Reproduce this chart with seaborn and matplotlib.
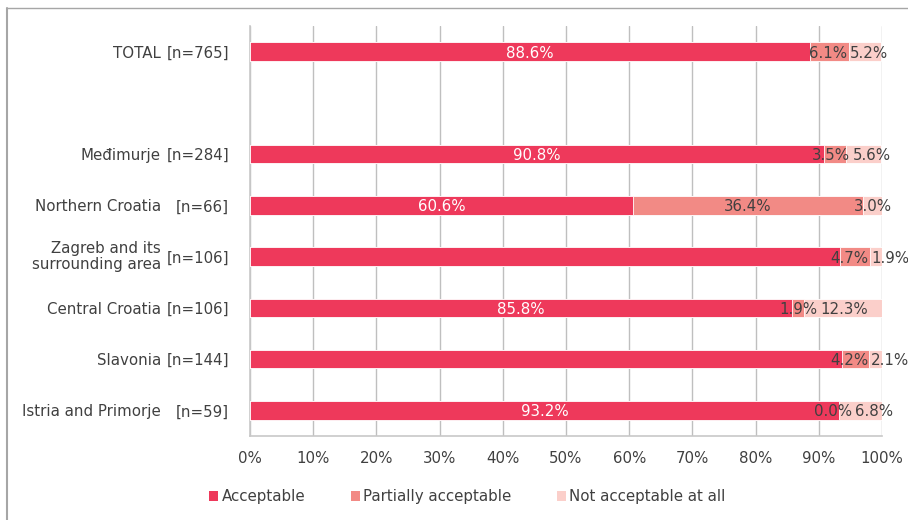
import pandas as pd
import numpy as np
import matplotlib.pyplot as plt
from matplotlib.patches import Patch
from matplotlib.lines import Line2D
import seaborn as sns

# data
regions = ['TOTAL', 'Međimurje', 'Northern Croatia', 'Zagreb and its\nsurrounding area',
           'Central Croatia', 'Slavonia', 'Istria and Primorje']
sample_sizes = ['[n=765]', '[n=284]', '[n=66]', '[n=106]', '[n=106]', '[n=144]', '[n=59]']
acceptable = [88.6, 90.8, 60.6, 93.4, 85.8, 93.7, 93.2]
partially = [6.1, 3.5, 36.4, 4.7, 1.9, 4.2, 0.0]
not_at_all = [5.2, 5.6, 3.0, 1.9, 12.3, 2.1, 6.8]
# the original shows no value inside these two acceptable bars
hide_acc_label = ['Zagreb and its\nsurrounding area', 'Slavonia']

series_names = ['Acceptable', 'Partially acceptable', 'Not acceptable at all']
colors = ['#EE395B', '#F28A85', '#FBCFCA']
text_col = '#404040'
fs = 10.8

# empty slot between TOTAL and the regions
order = ['TOTAL', 'gap'] + regions[1:]

df = pd.DataFrame({'region': regions, 'acc': acceptable,
                   'part': partially, 'notacc': not_at_all})
df['cum2'] = df['acc'] + df['part']
df['cum3'] = df['cum2'] + df['notacc']

sns.set_style('white')
plt.rcParams['font.family'] = ['DejaVu Sans']

fig = plt.figure(figsize=(9.08, 5.2), dpi=100)
ax = fig.add_axes([250 / 908, 1 - 436 / 520, 632 / 908, 410 / 520])

# stacked bars: draw cumulative totals back to front
for col, c in zip(['cum3', 'cum2', 'acc'], colors[::-1]):
    sns.barplot(data=df, x=col, y='region', order=order, color=c, width=0.36,
                orient='h', ax=ax, edgecolor='white', linewidth=0.6,
                saturation=1, zorder=3)

ax.set_xlim(0, 100)
ax.set_ylim(len(order) - 0.5, -0.5)
ax.set_xticks(np.arange(0, 101, 10))
ax.set_xticklabels([f'{t}%' for t in range(0, 101, 10)], fontsize=fs, color=text_col)
ax.tick_params(axis='x', length=0, pad=11)
ax.grid(axis='x', color='#BFBFBF', linewidth=1, zorder=0)
ax.set_axisbelow(True)
ax.set_xlabel('')
ax.set_ylabel('')

for s in ['top', 'right']:
    ax.spines[s].set_visible(False)
for s in ['left', 'bottom']:
    ax.spines[s].set_color('#C8C8C8')
    ax.spines[s].set_linewidth(1.2)

# y labels: sample sizes as tick labels, region names as a second column
pos = [order.index(r) for r in regions]
ax.set_yticks(pos)
ax.set_yticklabels(sample_sizes, fontsize=fs, color=text_col)
ax.tick_params(axis='y', length=0, pad=15)
ytr = ax.get_yaxis_transform()
for r, p in zip(regions, pos):
    va = 'center' if '\n' in r else 'center_baseline'
    ax.text(-0.141, p, r, transform=ytr, ha='right', va=va, fontsize=fs,
            color=text_col, linespacing=1.05)

# value labels centred in each segment
pairs = []
for i, row in df.iterrows():
    p = order.index(row['region'])
    if row['region'] not in hide_acc_label:
        ax.text(row['acc'] / 2, p + 0.03, f"{row['acc']:.1f}%", ha='center', va='center',
                fontsize=fs, color='white', zorder=5)
    t1 = ax.text(row['acc'] + row['part'] / 2, p + 0.03, f"{row['part']:.1f}%", ha='center',
                 va='center', fontsize=fs, color=text_col, zorder=5)
    t2 = ax.text(row['cum2'] + row['notacc'] / 2, p + 0.03, f"{row['notacc']:.1f}%", ha='center',
                 va='center', fontsize=fs, color=text_col, zorder=5)
    pairs.append((t1, t2))

# push apart small-segment labels that would collide
fig.canvas.draw()
r = fig.canvas.get_renderer()
px_per_unit = ax.transData.transform((1, 0))[0] - ax.transData.transform((0, 0))[0]
for t1, t2 in pairs:
    b1 = t1.get_window_extent(r)
    b2 = t2.get_window_extent(r)
    overlap = b1.x1 - b2.x0 + 3
    if overlap > 0:
        x1, y1 = t1.get_position()
        x2, y2 = t2.get_position()
        t1.set_position((x1 - 0.3 * overlap / px_per_unit, y1))
        t2.set_position((x2 + 0.7 * overlap / px_per_unit, y2))

handles = [Patch(facecolor=c, edgecolor='none', label=n) for c, n in zip(colors, series_names)]
fig.legend(handles=handles, loc='center', bbox_to_anchor=(0.515, 1 - 497 / 520), ncol=3,
           frameon=False, fontsize=fs, handlelength=0.6, handleheight=0.6,
           handletextpad=0.25, columnspacing=3.0, labelcolor=text_col)

# outer frame (top and left edges visible in the original)
fig.add_artist(Line2D([7 / 908, 7 / 908], [0, 1 - 8 / 520], transform=fig.transFigure,
                      color='#A6A6A6', linewidth=1.5))
fig.add_artist(Line2D([7 / 908, 1], [1 - 8 / 520, 1 - 8 / 520], transform=fig.transFigure,
                      color='#A6A6A6', linewidth=1.0))

fig.savefig('out.png', dpi=100)
